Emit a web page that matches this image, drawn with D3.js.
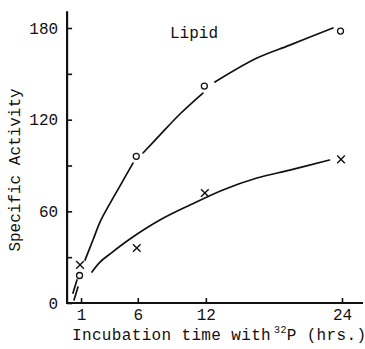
<!DOCTYPE html>
<html>
<head>
<meta charset="utf-8">
<script src="https://cdn.jsdelivr.net/npm/d3@7"></script>
<style>
  body { margin: 0; background: #fff; }
  text { font-family: "Liberation Mono", "DejaVu Sans Mono", monospace; fill: #111; }
</style>
</head>
<body>
<svg id="svg" width="365" height="349"></svg>
<script>
// hours of incubation where samples were taken
const hours = [1, 6, 12, 24];
// measured points (circles = upper series, crosses = lower series)
const circleValues = [18, 96, 142, 178];
const crossValues = [25, 36, 72, 94];

// hand drawn fitted curves; null marks a gap in the pen stroke
const curveUpper = [
  [0.29, 6.5], [0.64, 15.1], null,
  [1.35, 28.1], [2.05, 41.2], [2.67, 53.0], [3.5, 64.5], [4.5, 77.5], [5.58, 91.6], null,
  [6.46, 98.2], [7.96, 110.0], [9.72, 123.7], [11.74, 137.4], null,
  [12.8, 144.6], [16.5, 160.3], [19.4, 168.8], [23.2, 180.0]
];
const curveLower = [
  [0.38, 2.0], [0.73, 10.5], null,
  [1.96, 20.3], [2.67, 26.8], [3.55, 32.1], [5.31, 41.9], [7.95, 54.3],
  [10.6, 64.1], [13.5, 74.0], [16.5, 81.8], [19.4, 87.0], [22.9, 93.6]
];

const yTicks = [0, 30, 60, 90, 120, 150, 180];
const yLabels = [0, 60, 120, 180];
const xTicks = [1, 6, 12, 24];

const svg = d3.select("#svg");

const x = d3.scaleLinear().domain([0, 24]).range([69.7, 342]);
const y = d3.scaleLinear().domain([0, 180]).range([303, 28]);

// axis lines run a bit past the last tick, like the original
const xEnd = 25.85, yEnd = 191, x0 = -0.23;

svg.append("line")
  .attr("x1", x(x0)).attr("x2", x(x0))
  .attr("y1", y(0) + 1).attr("y2", y(yEnd))
  .attr("stroke", "#111").attr("stroke-width", 2.2);
svg.append("line")
  .attr("x1", x(x0)).attr("x2", x(xEnd))
  .attr("y1", y(0)).attr("y2", y(0))
  .attr("stroke", "#111").attr("stroke-width", 2.2);

const yAxis = g => g
  .attr("transform", `translate(${x(x0)},0)`)
  .call(d3.axisLeft(y)
    .tickValues(yTicks)
    .tickSizeInner(-5).tickSizeOuter(0).tickPadding(9)
    .tickFormat(d => yLabels.includes(d) ? d : ""))
  .call(g => g.select(".domain").remove());

const xAxis = g => g
  .attr("transform", `translate(0,${y(0)})`)
  .call(d3.axisBottom(x)
    .tickValues(xTicks)
    .tickSizeInner(-5).tickSizeOuter(0).tickPadding(6))
  .call(g => g.select(".domain").remove());

svg.append("g").call(yAxis);
svg.append("g").call(xAxis);

svg.selectAll(".tick line").attr("stroke", "#111").attr("stroke-width", 1.6);
svg.selectAll(".tick text")
  .attr("font-family", "Liberation Mono, monospace")
  .attr("font-size", 16)
  .attr("fill", "#111");

// curves
const line = d3.line()
  .defined(d => d !== null)
  .x(d => x(d[0]))
  .y(d => y(d[1]))
  .curve(d3.curveCatmullRom);

svg.selectAll(".fit")
  .data([curveUpper, curveLower])
  .enter()
  .append("path")
  .attr("fill", "none")
  .attr("stroke", "#111")
  .attr("stroke-width", 1.7)
  .attr("stroke-linecap", "round")
  .attr("d", line);

// circle markers
svg.selectAll(".circ")
  .data(hours.map((h, i) => [h, circleValues[i]]))
  .enter()
  .append("circle")
  .attr("cx", d => x(d[0]) - 1.5)
  .attr("cy", d => y(d[1]))
  .attr("r", 3)
  .attr("fill", "#fff")
  .attr("stroke", "#111")
  .attr("stroke-width", 1.3);

// cross markers
const cross = d3.symbol().type(d3.symbolX).size(40);
svg.selectAll(".cross")
  .data(hours.map((h, i) => [h, crossValues[i]]))
  .enter()
  .append("path")
  .attr("transform", d => `translate(${x(d[0]) - 1},${y(d[1])})`)
  .attr("d", cross)
  .attr("fill", "none")
  .attr("stroke", "#111")
  .attr("stroke-width", 1.4);

// labels
svg.append("text")
  .attr("x", 170).attr("y", 38)
  .attr("font-size", 16)
  .text("Lipid");

svg.append("text")
  .attr("transform", `translate(20,170) rotate(-90)`)
  .attr("text-anchor", "middle")
  .attr("font-size", 16)
  .text("Specific Activity");

const xl = svg.append("text")
  .attr("x", 72).attr("y", 340)
  .attr("font-size", 16)
  .attr("letter-spacing", 0.35);
xl.append("tspan").text("Incubation time with");
xl.append("tspan").attr("font-size", 10).attr("dy", -7).attr("dx", 3).text("32");
xl.append("tspan").attr("dy", 7).text("P (hrs.)");
</script>
</body>
</html>
